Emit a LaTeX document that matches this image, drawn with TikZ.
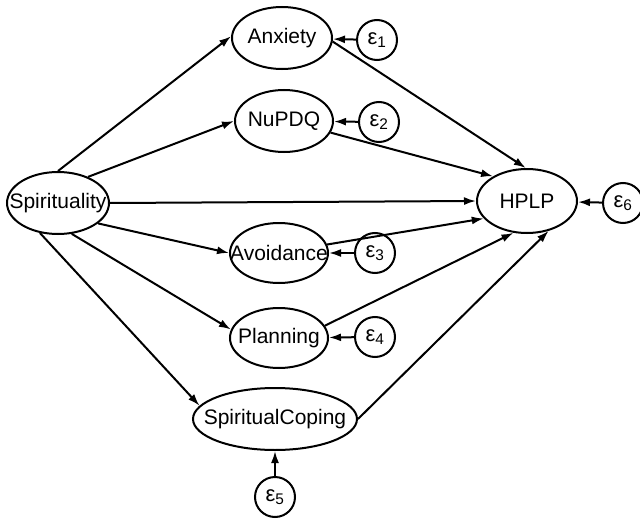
\documentclass[tikz,border=0pt]{standalone}
\usepackage{fontspec}
\setmainfont{Liberation Sans}
\usetikzlibrary{shapes.geometric,arrows.meta}
\begin{document}
\begin{tikzpicture}[x=1pt,y=-1pt,
  every node/.style={font=\fontsize{21}{24}\selectfont},
  var/.style={draw, ellipse, inner sep=-60pt, line width=2pt, minimum width=100pt, minimum height=62pt},
  err/.style={draw, circle, inner sep=0pt, line width=2pt, minimum size=40pt, font=\fontsize{22}{24}\selectfont},
  path/.style={line width=2pt, -{Latex[length=12pt,width=8pt]}}]
\useasboundingbox (0,0) rectangle (640,519);
\node[var, minimum width=102pt] (spir) at (58,203) {Spirituality};
\node[var] (anx) at (282,38) {Anxiety};
\node[var, minimum width=98pt] (nup) at (284,121) {NuPDQ};
\node[var, minimum width=98pt, minimum height=60pt] (avo) at (279,253) {Avoidance};
\node[var, minimum width=98pt, minimum height=60pt] (pla) at (279,338) {Planning};
\node[var, minimum width=164pt] (cop) at (275,419) {SpiritualCoping};
\node[var, minimum height=64pt] (hplp) at (527,201) {HPLP};
\node[err] (e1) at (377,40) {ε\textsubscript{1}};
\node[err] (e2) at (379,122) {ε\textsubscript{2}};
\node[err] (e3) at (375,253) {ε\textsubscript{3}};
\node[err] (e4) at (375,337) {ε\textsubscript{4}};
\node[err] (e5) at (275,497) {ε\textsubscript{5}};
\node[err] (e6) at (623,203) {ε\textsubscript{6}};
% from Spirituality
\draw[path] (spir.90) -- (anx.178);
\draw[path] (spir.41) -- (nup.180);
\draw[path] (spir.east) -- (hplp.west);
\draw[path] (spir.-27) -- (avo.180);
\draw[path] (spir.-66) -- (pla.170);
\draw[path] (spir.-121) -- (cop.170);
% to HPLP
\draw[path] (anx.-4) -- (hplp.92);
\draw[path] (nup.-14) -- (hplp.144);
\draw[path] (avo.10) -- (hplp.202);
\draw[path] (pla.15) -- (hplp.247);
\draw[path] (cop.east) -- (hplp.-54);
% errors
\draw[path] (e1) -- (anx);
\draw[path] (e2) -- (nup);
\draw[path] (e3) -- (avo);
\draw[path] (e4) -- (pla);
\draw[path] (e5) -- (cop);
\draw[path] (e6) -- (hplp);
\end{tikzpicture}
\end{document}
